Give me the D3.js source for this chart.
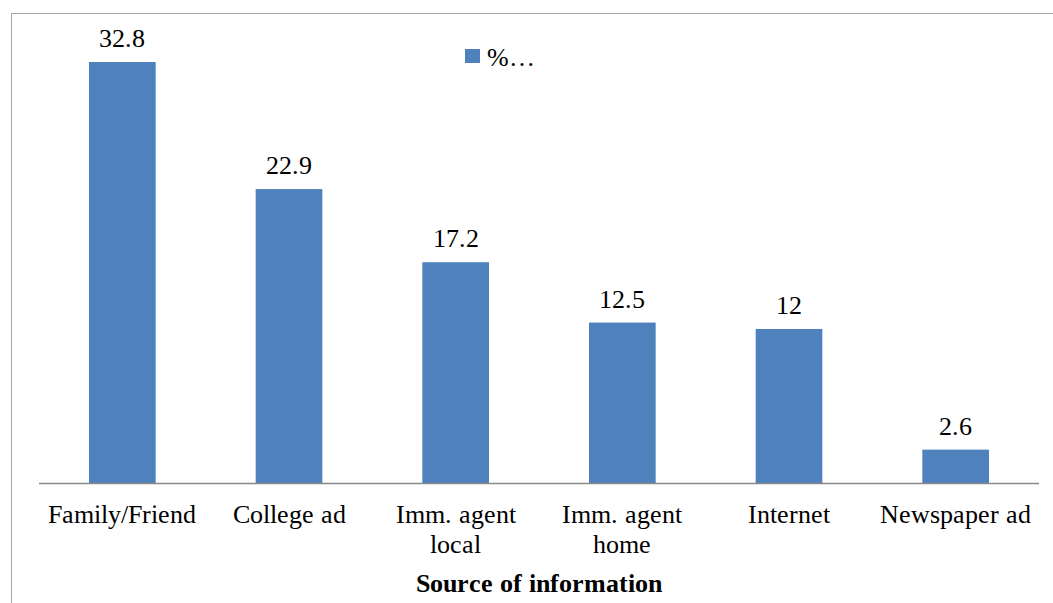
<!DOCTYPE html>
<html>
<head>
<meta charset="utf-8">
<script src="https://cdn.jsdelivr.net/npm/d3@7"></script>
<style>
  @font-face { font-family: "ChartSerif"; src: local("Liberation Serif"), local("LiberationSerif"); font-weight: normal; }
  @font-face { font-family: "ChartSerif"; src: local("Liberation Serif Bold"), local("LiberationSerif-Bold"); font-weight: bold; }
  body { margin: 0; }
</style>
</head>
<body>
<svg id="chart" width="1053" height="603"></svg>
<script>
// Source of information (% of respondents)
const categories = [
  ["Family/Friend"],
  ["College ad"],
  ["Imm. agent", "local"],
  ["Imm. agent", "home"],
  ["Internet"],
  ["Newspaper ad"]
];
const values = [32.8, 22.9, 17.2, 12.5, 12, 2.6];
const valueLabels = ["32.8", "22.9", "17.2", "12.5", "12", "2.6"];
const seriesName = "%…";
const axisTitle = "Source of information";

const svg = d3.select("#chart");
const W = 1053, H = 603;
const plot = { left: 39, right: 1039, top: 62, bottom: 483 };

// Serif face applied directly on every label
const serif = sel => sel.style("font-family", '"ChartSerif", "Liberation Serif", serif', "important");

// Outer chart frame
svg.append("rect")
  .attr("x", 11.5).attr("y", 13.5)
  .attr("width", W + 20).attr("height", H + 20)
  .attr("fill", "none").attr("stroke", "#a6a6a6").attr("stroke-width", 1);

const keys = categories.map(d => d.join(" "));
const x = d3.scaleBand().domain(keys).range([plot.left, plot.right]).paddingInner(0.6).paddingOuter(0.3);
const y = d3.scaleLinear().domain([0, 32.8]).range([plot.bottom, plot.top]);

// Bars
svg.append("g").selectAll("rect").data(values).join("rect")
  .attr("x", (d, i) => x(keys[i]))
  .attr("y", d => y(d))
  .attr("width", x.bandwidth())
  .attr("height", d => y(0) - y(d))
  .attr("fill", "#4f81bd");

// Category axis baseline, spanning the band scale's range
const [x0, x1] = x.range();
svg.append("line")
  .attr("x1", x0).attr("x2", x1)
  .attr("y1", y(0) + 0.5).attr("y2", y(0) + 0.5)
  .attr("stroke", "#898989").attr("stroke-width", 1.5);

// Value labels
svg.selectAll("text.val").data(values).join("text")
  .attr("class", "val")
  .attr("x", (d, i) => x(keys[i]) + x.bandwidth() / 2)
  .attr("y", d => y(d) - 15)
  .attr("text-anchor", "middle")
  .attr("font-size", 26)
  .call(serif)
  .text((d, i) => valueLabels[i]);

// Category labels (two-line where needed)
const catG = svg.selectAll("text.cat").data(categories).join("text")
  .attr("class", "cat")
  .attr("text-anchor", "middle")
  .attr("font-size", 26)
  .call(serif)
  .attr("transform", (d, i) => `translate(${x(keys[i]) + x.bandwidth() / 2},523)`);
catG.selectAll("tspan").data(d => d).join("tspan")
  .attr("x", 0)
  .attr("dy", (d, i) => i === 0 ? 0 : 30)
  .call(serif)
  .text(d => d);

// Axis title
svg.append("text")
  .attr("x", (x0 + x1) / 2)
  .attr("y", 592)
  .attr("text-anchor", "middle")
  .attr("font-size", 26)
  .attr("font-weight", "bold")
  .call(serif)
  .text(axisTitle);

// Legend
const lg = svg.append("g").attr("transform", "translate(465,49)");
lg.append("rect").attr("width", 15).attr("height", 14).attr("fill", "#4f81bd");
lg.append("text").attr("x", 22).attr("y", 17)
  .attr("font-size", 26).call(serif).text(seriesName);
</script>
</body>
</html>
